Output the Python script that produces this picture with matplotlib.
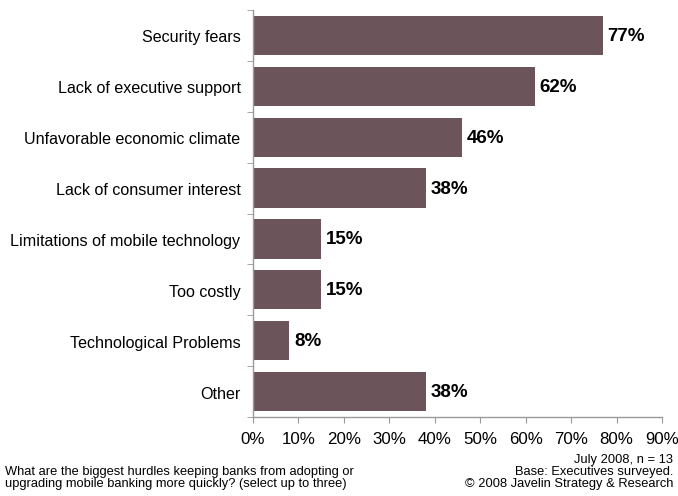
import matplotlib
matplotlib.use("Agg")
import matplotlib.pyplot as plt
import numpy as np

categories = ["Security fears", "Lack of executive support", "Unfavorable economic climate",
              "Lack of consumer interest", "Limitations of mobile technology", "Too costly",
              "Technological Problems", "Other"]
values = [77, 62, 46, 38, 15, 15, 8, 38]
xticks = [0, 10, 20, 30, 40, 50, 60, 70, 80, 90]

plt.rcParams['font.family'] = ['Liberation Sans', 'DejaVu Sans']

W, H = 678, 496
fig = plt.figure(figsize=(W/100, H/100), dpi=100)
ax = fig.add_axes([253/W, 1 - 417/H, (662-253)/W, (417-10)/H])

y = np.arange(len(categories))
ax.barh(y, values, height=0.77, color="#6B555B")
ax.set_ylim(len(categories) - 0.5, -0.5)
ax.set_xlim(0, 90)

for yi, v in zip(y, values):
    ax.text(v + 1, yi + 0.02, f"{v}%", va="center", ha="left", fontsize=13.5, fontweight="bold")

ax.set_yticks(y + 0.02)
ax.set_yticklabels(categories, fontsize=11.6)
ax.tick_params(axis="y", which="major", length=0, pad=9)
ax.set_yticks(np.arange(-0.5, len(categories) + 0.5, 1), minor=True)
ax.tick_params(axis="y", which="minor", length=4, color="#999999", direction="out")

ax.set_xticks(xticks)
ax.set_xticklabels([f"{t}%" for t in xticks], fontsize=12.2)
ax.tick_params(axis="x", length=4, color="#999999", direction="out", pad=7)

for s in ["top", "right"]:
    ax.spines[s].set_visible(False)
for s in ["left", "bottom"]:
    ax.spines[s].set_color("#999999")
    ax.spines[s].set_linewidth(1)

fig.text(5/W, 1 - 478/H, "What are the biggest hurdles keeping banks from adopting or\nupgrading mobile banking more quickly? (select up to three)",
         fontsize=9.3, ha="left", va="center", linespacing=1.05)
fig.text(673/W, 1 - 472/H, "July 2008, n = 13\nBase: Executives surveyed.\n\u00a9 2008 Javelin Strategy & Research",
         fontsize=9.3, ha="right", va="center", multialignment="right", linespacing=1.05)

fig.savefig("out.png", dpi=100)
